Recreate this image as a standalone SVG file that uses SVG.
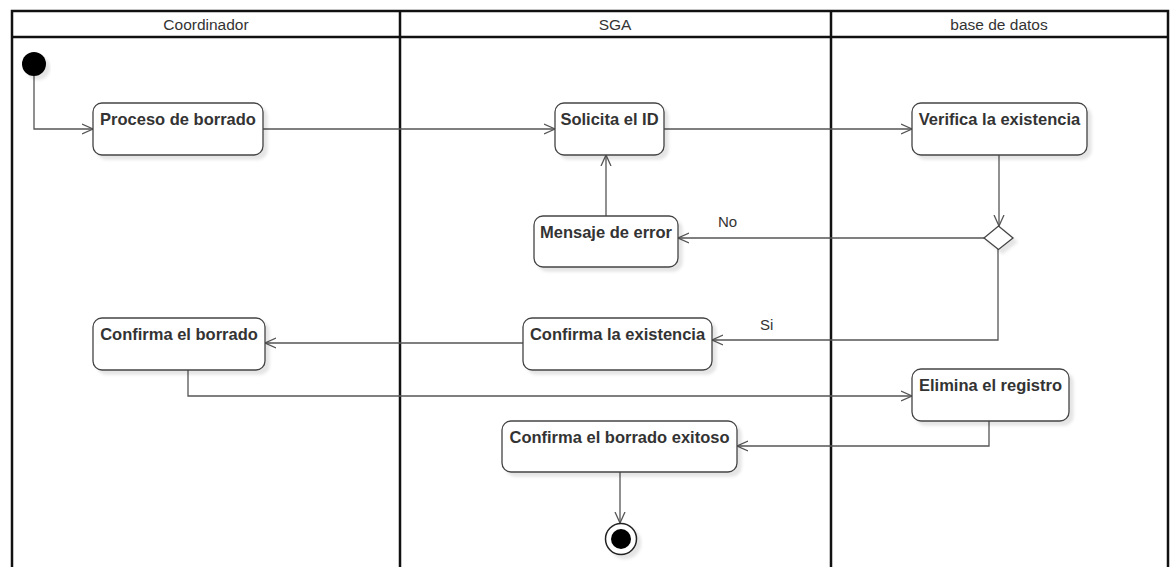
<svg xmlns="http://www.w3.org/2000/svg" width="1171" height="567" viewBox="0 0 1171 567">
<style>
.lane{fill:none;stroke:#111;stroke-width:2.5}
.hdr{font-family:"Liberation Sans",Arial,sans-serif;font-size:15.5px;fill:#333;text-anchor:middle}
.box{fill:#fff;stroke:#444;stroke-width:1.3;filter:url(#sh)}
.lbl{font-family:"Liberation Sans",Arial,sans-serif;font-size:16.5px;font-weight:bold;fill:#333;text-anchor:middle}
.edge{fill:none;stroke:#555;stroke-width:1.3;marker-end:url(#arr)}
.glbl{font-family:"Liberation Sans",Arial,sans-serif;font-size:15px;fill:#333}
</style>
<defs>
<filter id="sh" x="-10%" y="-10%" width="130%" height="140%">
<feDropShadow dx="4" dy="4" stdDeviation="1.5" flood-color="#000" flood-opacity="0.1"/>
</filter>
<marker id="arr" viewBox="0 0 12 12" refX="11" refY="6" markerWidth="12" markerHeight="12" markerUnits="userSpaceOnUse" orient="auto">
<path d="M0,1 L11,6 L0,11" fill="none" stroke="#555" stroke-width="1.3"/>
</marker>
</defs>
<rect width="1171" height="567" fill="#fff"/>
<g id="lanes">
<path class="lane" d="M12,575 V11 H1168 V575 M12,37 H1168 M400,11 V575 M831,11 V575"/>
<text class="hdr" x="206" y="30">Coordinador</text>
<text class="hdr" x="615" y="30">SGA</text>
<text class="hdr" x="999" y="30">base de datos</text>
</g>
<g id="connectors">
<path class="edge" d="M34,76 V129 H93"/>
<path class="edge" d="M263,129 H555"/>
<path class="edge" d="M664,129 H912"/>
<path class="edge" d="M999,155 V226"/>
<path class="edge" d="M984,238 H678"/>
<text class="glbl" x="718" y="227">No</text>
<path class="edge" d="M606,216 V155"/>
<path class="edge" d="M998,249 V340 H712"/>
<text class="glbl" x="760" y="330">Si</text>
<path class="edge" d="M523,343 H265"/>
<path class="edge" d="M188,370 V396 H912"/>
<path class="edge" d="M989,421 V446 H737"/>
<path class="edge" d="M620,472 V523"/>
</g>
<g id="start"><circle cx="34" cy="64" r="12" fill="#000" filter="url(#sh)"/></g>
<g id="n1"><rect class="box" x="93" y="103" width="170" height="52" rx="9"/><text class="lbl" x="178" y="125">Proceso de borrado</text></g>
<g id="n2"><rect class="box" x="555" y="103" width="109" height="52" rx="9"/><text class="lbl" x="609.5" y="125">Solicita el ID</text></g>
<g id="n3"><rect class="box" x="912" y="103" width="175" height="52" rx="9"/><text class="lbl" x="999.5" y="125">Verifica la existencia</text></g>
<g id="decision"><path d="M984,238 L998.5,226 L1013,238 L998.5,249.5 Z" fill="#fff" stroke="#444" stroke-width="1.3" filter="url(#sh)"/></g>
<g id="n4"><rect class="box" x="534" y="216" width="144" height="51" rx="9"/><text class="lbl" x="606" y="238">Mensaje de error</text></g>
<g id="n5"><rect class="box" x="93" y="318" width="172" height="52" rx="9"/><text class="lbl" x="179" y="340">Confirma el borrado</text></g>
<g id="n6"><rect class="box" x="523" y="318" width="189" height="52" rx="9"/><text class="lbl" x="617.5" y="340">Confirma la existencia</text></g>
<g id="n7"><rect class="box" x="912" y="369" width="157" height="52" rx="9"/><text class="lbl" x="990.5" y="391">Elimina el registro</text></g>
<g id="n8"><rect class="box" x="502" y="421" width="235" height="51" rx="9"/><text class="lbl" x="619.5" y="443">Confirma el borrado exitoso</text></g>
<g id="end"><circle cx="621" cy="539" r="15.5" fill="#fff" stroke="#222" stroke-width="1.5" filter="url(#sh)"/><circle cx="621" cy="539" r="10" fill="#000"/></g>
</svg>
